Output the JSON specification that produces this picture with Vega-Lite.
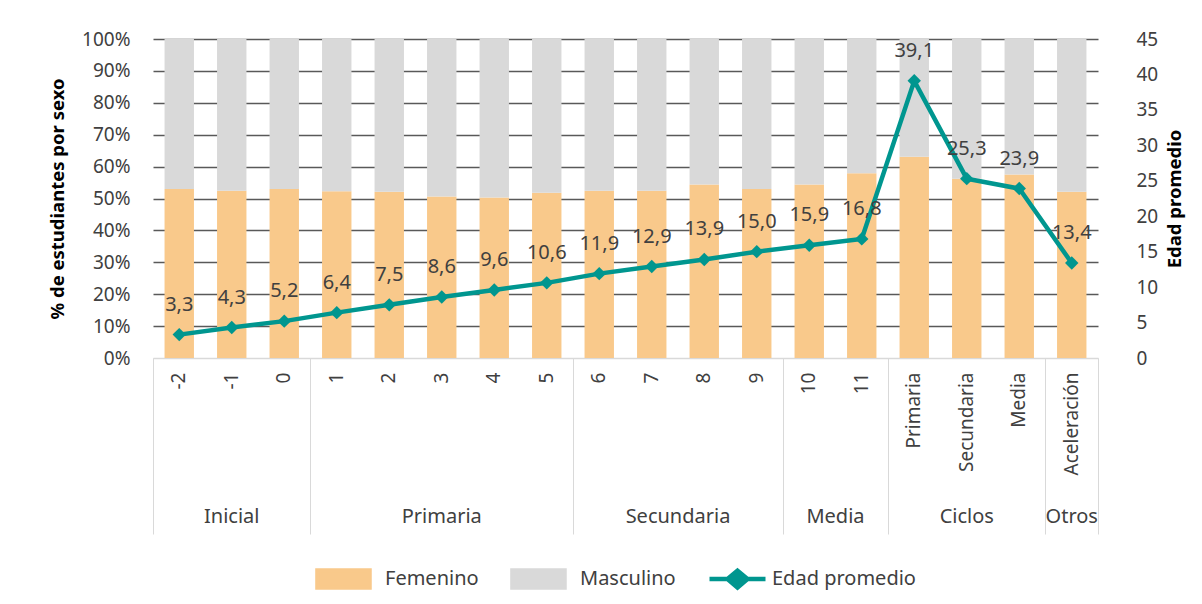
{
  "$schema": "https://vega.github.io/schema/vega-lite/v6.json",
  "width": 945,
  "height": 319,
  "autosize": {"type": "none"},
  "padding": {"left": 153, "top": 39, "right": 104, "bottom": 246},
  "config": {
    "font": "Noto Sans",
    "view": {"stroke": null},
    "locale": {"number": {"decimal": ",", "thousands": ".", "grouping": [3], "currency": ["$", ""]}},
    "axis": {"labelFont": "Noto Sans", "labelColor": "#404040", "labelFontSize": 19, "titleFont": "Noto Sans", "titleColor": "#000000", "titleFontSize": 18.5, "titleFontWeight": "bold"}
  },
  "datasets": {
    "sexo": [
      {"cat": "-2", "sexo": "Femenino", "pct": 0.530}, {"cat": "-2", "sexo": "Masculino", "pct": 0.470},
      {"cat": "-1", "sexo": "Femenino", "pct": 0.524}, {"cat": "-1", "sexo": "Masculino", "pct": 0.476},
      {"cat": "0", "sexo": "Femenino", "pct": 0.530}, {"cat": "0", "sexo": "Masculino", "pct": 0.470},
      {"cat": "1", "sexo": "Femenino", "pct": 0.523}, {"cat": "1", "sexo": "Masculino", "pct": 0.477},
      {"cat": "2", "sexo": "Femenino", "pct": 0.521}, {"cat": "2", "sexo": "Masculino", "pct": 0.479},
      {"cat": "3", "sexo": "Femenino", "pct": 0.506}, {"cat": "3", "sexo": "Masculino", "pct": 0.494},
      {"cat": "4", "sexo": "Femenino", "pct": 0.503}, {"cat": "4", "sexo": "Masculino", "pct": 0.497},
      {"cat": "5", "sexo": "Femenino", "pct": 0.518}, {"cat": "5", "sexo": "Masculino", "pct": 0.482},
      {"cat": "6", "sexo": "Femenino", "pct": 0.524}, {"cat": "6", "sexo": "Masculino", "pct": 0.476},
      {"cat": "7", "sexo": "Femenino", "pct": 0.524}, {"cat": "7", "sexo": "Masculino", "pct": 0.476},
      {"cat": "8", "sexo": "Femenino", "pct": 0.544}, {"cat": "8", "sexo": "Masculino", "pct": 0.456},
      {"cat": "9", "sexo": "Femenino", "pct": 0.530}, {"cat": "9", "sexo": "Masculino", "pct": 0.470},
      {"cat": "10", "sexo": "Femenino", "pct": 0.544}, {"cat": "10", "sexo": "Masculino", "pct": 0.456},
      {"cat": "11", "sexo": "Femenino", "pct": 0.579}, {"cat": "11", "sexo": "Masculino", "pct": 0.421},
      {"cat": "Primaria", "sexo": "Femenino", "pct": 0.631}, {"cat": "Primaria", "sexo": "Masculino", "pct": 0.369},
      {"cat": "Secundaria", "sexo": "Femenino", "pct": 0.562}, {"cat": "Secundaria", "sexo": "Masculino", "pct": 0.438},
      {"cat": "Media", "sexo": "Femenino", "pct": 0.575}, {"cat": "Media", "sexo": "Masculino", "pct": 0.425},
      {"cat": "Aceleración", "sexo": "Femenino", "pct": 0.521}, {"cat": "Aceleración", "sexo": "Masculino", "pct": 0.479}
    ],
    "edad": [
      {"cat": "-2", "edad": 3.3}, {"cat": "-1", "edad": 4.3}, {"cat": "0", "edad": 5.2},
      {"cat": "1", "edad": 6.4}, {"cat": "2", "edad": 7.5}, {"cat": "3", "edad": 8.6},
      {"cat": "4", "edad": 9.6}, {"cat": "5", "edad": 10.6}, {"cat": "6", "edad": 11.9},
      {"cat": "7", "edad": 12.9}, {"cat": "8", "edad": 13.9}, {"cat": "9", "edad": 15.0},
      {"cat": "10", "edad": 15.9}, {"cat": "11", "edad": 16.8}, {"cat": "Primaria", "edad": 39.1},
      {"cat": "Secundaria", "edad": 25.3}, {"cat": "Media", "edad": 23.9}, {"cat": "Aceleración", "edad": 13.4}
    ],
    "bordes": [{"cat": "-2"}, {"cat": "1"}, {"cat": "6"}, {"cat": "10"}, {"cat": "Primaria"}, {"cat": "Aceleración"}],
    "borde_final": [{"cat": "Aceleración"}],
    "grupos_impar": [{"cat": "-1", "grupo": "Inicial"}, {"cat": "3", "grupo": "Primaria"}, {"cat": "Secundaria", "grupo": "Ciclos"}, {"cat": "Aceleración", "grupo": "Otros"}],
    "grupos_par": [{"cat": "8", "grupo": "Secundaria"}, {"cat": "11", "grupo": "Media"}]
  },
  "resolve": {"scale": {"y": "independent"}, "axis": {"x": "independent"}},
  "layer": [
    {
      "data": {"name": "sexo"},
      "mark": {"type": "bar", "width": {"band": 0.56}},
      "encoding": {
        "x": {
          "field": "cat", "type": "nominal",
          "scale": {"domain": ["-2", "-1", "0", "1", "2", "3", "4", "5", "6", "7", "8", "9", "10", "11", "Primaria", "Secundaria", "Media", "Aceleración"], "paddingInner": 0, "paddingOuter": 0},
          "axis": {"orient": "bottom", "title": null, "labelAngle": 270, "labelPadding": 14, "ticks": false, "domainColor": "#d9d9d9", "domainWidth": 1, "labelFontSize": 19}
        },
        "y": {
          "field": "pct", "type": "quantitative", "stack": "zero",
          "scale": {"domain": [0, 1]},
          "axis": {
            "orient": "left", "title": "% de estudiantes por sexo",
            "values": [0, 0.1, 0.2, 0.3, 0.4, 0.5, 0.6, 0.7, 0.8, 0.9, 1],
            "format": ".0%", "ticks": false, "domain": false, "labelPadding": 23,
            "grid": true,
            "gridColor": {"condition": {"test": "datum.value === 0", "value": "#d9d9d9"}, "value": "#595959"},
            "gridWidth": 1.6, "titlePadding": 14
          }
        },
        "order": {"field": "sexo", "sort": "ascending"},
        "color": {
          "field": "sexo", "type": "nominal",
          "scale": {"domain": ["Femenino", "Masculino", "Edad promedio"], "range": ["#F9C98B", "#D9D9D9", "#00968F"]},
          "legend": {
            "title": null, "orient": "none", "legendX": 167, "legendY": 509, "direction": "horizontal",
            "labelFontSize": 20, "labelColor": "#404040", "labelFont": "Noto Sans",
            "symbolSize": 3136, "columnPadding": 24, "labelOffset": 4,
            "encode": {
              "symbols": {
                "update": {
                  "shape": {"signal": "datum.value === 'Edad promedio' ? 'M-1,0H1M0,-0.3L0.357,0L0,0.3L-0.357,0Z' : 'M-1.18,-0.304H0.679V0.304H-1.18Z'"},
                  "fill": {"signal": "datum.value === 'Femenino' ? '#F9C98B' : datum.value === 'Masculino' ? '#D9D9D9' : '#00968F'"},
                  "stroke": {"signal": "datum.value === 'Edad promedio' ? '#00968F' : 'transparent'"},
                  "strokeWidth": {"value": 4.5},
                  "opacity": {"value": 1}
                }
              }
            }
          }
        }
      }
    },
    {
      "data": {"name": "edad"},
      "mark": {"type": "line", "strokeWidth": 4.5, "point": {"shape": "diamond", "filled": true, "size": 180, "opacity": 1}},
      "encoding": {
        "x": {
          "field": "cat", "type": "nominal",
          "scale": {"domain": ["-2", "-1", "0", "1", "2", "3", "4", "5", "6", "7", "8", "9", "10", "11", "Primaria", "Secundaria", "Media", "Aceleración"], "paddingInner": 0, "paddingOuter": 0},
          "axis": null
        },
        "y": {
          "field": "edad", "type": "quantitative",
          "scale": {"domain": [0, 45]},
          "axis": {
            "orient": "right", "title": "Edad promedio", "titleAngle": 270, "titleBaseline": "top",
            "values": [0, 5, 10, 15, 20, 25, 30, 35, 40, 45],
            "grid": false, "ticks": false, "domain": false, "labelPadding": 24, "offset": 14, "titlePadding": 8
          }
        },
        "color": {"datum": "Edad promedio"}
      }
    },
    {
      "data": {"name": "edad"},
      "mark": {"type": "text", "dy": -24, "baseline": "alphabetic", "fontSize": 20, "color": "#404040"},
      "encoding": {
        "x": {
          "field": "cat", "type": "nominal",
          "scale": {"domain": ["-2", "-1", "0", "1", "2", "3", "4", "5", "6", "7", "8", "9", "10", "11", "Primaria", "Secundaria", "Media", "Aceleración"], "paddingInner": 0, "paddingOuter": 0},
          "axis": null
        },
        "y": {"field": "edad", "type": "quantitative", "scale": {"domain": [0, 45]}, "axis": null},
        "text": {"field": "edad", "type": "quantitative", "format": ".1f"}
      }
    },
    {
      "data": {"name": "bordes"},
      "mark": {"type": "rule", "strokeOpacity": 0},
      "encoding": {
        "x": {
          "field": "cat", "type": "nominal",
          "scale": {"domain": ["-2", "-1", "0", "1", "2", "3", "4", "5", "6", "7", "8", "9", "10", "11", "Primaria", "Secundaria", "Media", "Aceleración"], "paddingInner": 0, "paddingOuter": 0},
          "axis": {"orient": "bottom", "title": null, "values": ["-2", "1", "6", "10", "Primaria", "Aceleración"], "bandPosition": 0, "tickExtra": false, "tickSize": 176, "tickColor": "#d9d9d9", "tickWidth": 1, "labels": false, "domain": false}
        }
      }
    },
    {
      "data": {"name": "borde_final"},
      "mark": {"type": "rule", "strokeOpacity": 0},
      "encoding": {
        "x": {
          "field": "cat", "type": "nominal",
          "scale": {"domain": ["-2", "-1", "0", "1", "2", "3", "4", "5", "6", "7", "8", "9", "10", "11", "Primaria", "Secundaria", "Media", "Aceleración"], "paddingInner": 0, "paddingOuter": 0},
          "axis": {"orient": "bottom", "title": null, "values": ["Aceleración"], "bandPosition": 1, "tickExtra": false, "tickSize": 176, "tickColor": "#d9d9d9", "tickWidth": 1, "labels": false, "domain": false}
        }
      }
    },
    {
      "data": {"name": "grupos_impar"},
      "mark": {"type": "rule", "strokeOpacity": 0},
      "encoding": {
        "x": {
          "field": "cat", "type": "nominal",
          "scale": {"domain": ["-2", "-1", "0", "1", "2", "3", "4", "5", "6", "7", "8", "9", "10", "11", "Primaria", "Secundaria", "Media", "Aceleración"], "paddingInner": 0, "paddingOuter": 0},
          "axis": {"orient": "bottom", "title": null, "values": ["-1", "3", "Secundaria", "Aceleración"], "labelExpr": "datum.value === '-1' ? 'Inicial' : datum.value === '3' ? 'Primaria' : datum.value === 'Secundaria' ? 'Ciclos' : 'Otros'", "labelAngle": 0, "ticks": false, "domain": false, "offset": 148, "labelPadding": 0, "labelBaseline": "top", "labelFontSize": 20}
        }
      }
    },
    {
      "data": {"name": "grupos_par"},
      "mark": {"type": "rule", "strokeOpacity": 0},
      "encoding": {
        "x": {
          "field": "cat", "type": "nominal",
          "scale": {"domain": ["-2", "-1", "0", "1", "2", "3", "4", "5", "6", "7", "8", "9", "10", "11", "Primaria", "Secundaria", "Media", "Aceleración"], "paddingInner": 0, "paddingOuter": 0},
          "axis": {"orient": "bottom", "title": null, "values": ["8", "11"], "labelOffset": -26.25, "labelExpr": "datum.value === '8' ? 'Secundaria' : 'Media'", "labelAngle": 0, "ticks": false, "domain": false, "offset": 148, "labelPadding": 0, "labelBaseline": "top", "labelFontSize": 20}
        }
      }
    }
  ]
}
